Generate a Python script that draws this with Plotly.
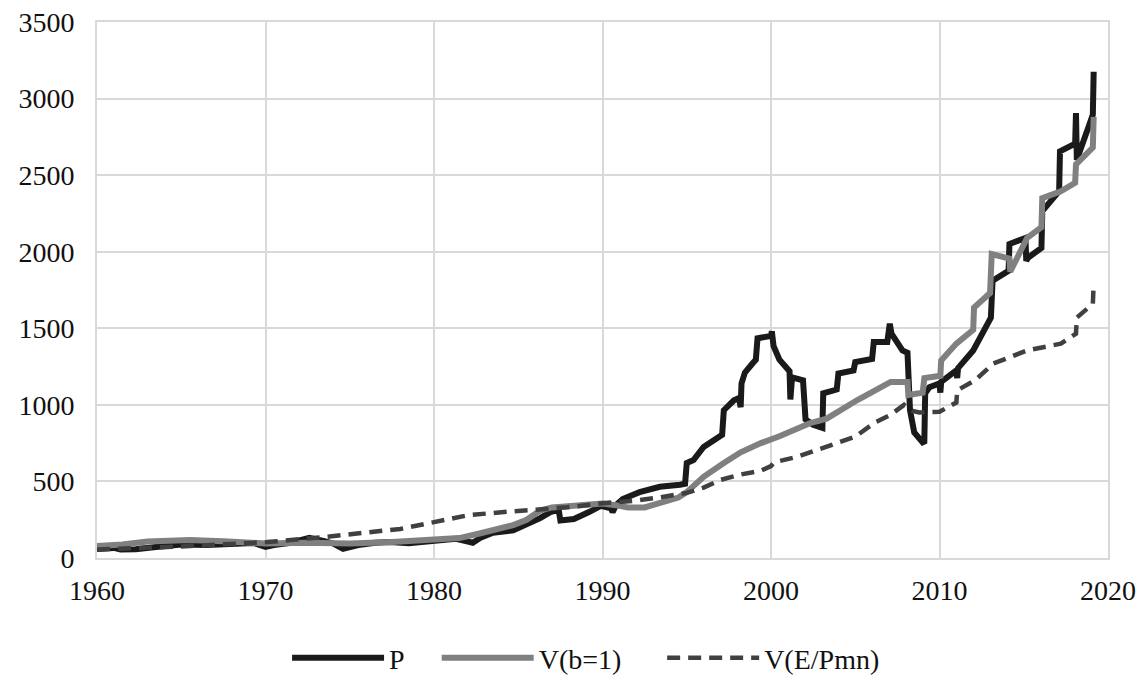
import plotly.graph_objects as go

# ---- data ----
p_year = [1960.0, 1961.0, 1961.4, 1962.3, 1963.5, 1965.0, 1966.5, 1968.0, 1969.3, 1970.0,
          1970.5, 1971.5, 1972.6, 1973.5, 1974.0, 1974.6, 1975.5, 1976.5, 1977.4, 1978.5,
          1979.5, 1980.5, 1981.3, 1981.7, 1982.3, 1982.8, 1983.5, 1984.7, 1985.5, 1986.3,
          1986.9, 1987.4, 1987.5, 1988.3, 1989.2, 1989.9, 1990.5, 1990.6, 1990.8, 1991.2,
          1992.2, 1993.4, 1994.6, 1994.9, 1995.0, 1995.4, 1996.0, 1996.8, 1997.1, 1997.2,
          1997.8, 1998.1, 1998.2, 1998.25, 1998.45, 1998.9, 1999.1, 1999.2, 2000.0, 2000.05,
          2000.15, 2000.5, 2001.0, 2001.1, 2001.15, 2001.25, 2001.9, 2002.05, 2002.5, 2003.05,
          2003.1, 2003.9, 2004.0, 2004.9, 2005.0, 2006.0, 2006.1, 2006.9, 2007.05, 2007.15,
          2007.8, 2008.1, 2008.25, 2008.5, 2009.0, 2009.1, 2009.15, 2009.4, 2010.0, 2010.05,
          2010.1, 2011.0, 2011.05, 2011.1, 2012.0, 2013.05, 2013.15, 2014.1, 2014.15, 2015.1,
          2015.15, 2015.25, 2016.05, 2016.1, 2017.1, 2017.15, 2018.05, 2018.1, 2018.15, 2019.1,
          2019.15]
p_value = [58, 66, 55, 57, 72, 88, 85, 95, 98, 72,
           85, 100, 132, 110, 95, 60, 85, 100, 104, 96,
           105, 120, 125, 115, 100, 135, 165, 180, 215, 260,
           300, 315, 245, 255, 300, 340, 325, 300, 345, 385,
           430, 465, 478, 485, 620, 640, 725, 790, 805, 965,
           1030, 1045, 985, 1140, 1210, 1270, 1295, 1435, 1450, 1480,
           1385, 1295, 1225, 1220, 1035, 1180, 1160, 905, 870, 850,
           1075, 1100, 1205, 1225, 1280, 1300, 1410, 1410, 1530, 1465,
           1355, 1340, 965, 820, 755, 760, 1075, 1115, 1140, 1080,
           1150, 1225, 1175, 1240, 1355, 1570, 1810, 1875, 2050, 2090,
           1940, 1960, 2025, 2265, 2395, 2655, 2705, 2905, 2600, 2895,
           3175]

v_year = [1960.0, 1961.5, 1963.0, 1965.5, 1967.5, 1970.0, 1972.5, 1975.0, 1977.5, 1980.0,
          1981.5, 1982.7, 1984.7, 1985.5, 1986.3, 1987.0, 1988.7, 1990.0, 1990.8, 1991.5,
          1992.5, 1993.4, 1994.5, 1995.0, 1996.0, 1997.2, 1998.2, 1999.4, 2000.5, 2002.3,
          2003.3, 2005.1, 2006.1, 2007.1, 2008.1, 2008.15, 2009.0, 2009.1, 2010.05, 2010.1,
          2011.0, 2012.0, 2012.05, 2013.0, 2013.1, 2014.15, 2014.2, 2015.2, 2016.05, 2016.1,
          2017.2, 2018.05, 2018.1, 2019.1, 2019.15]
v_value = [78, 88, 108, 118, 110, 95, 100, 95, 105, 125,
           130, 160, 215, 250, 310, 330, 345, 355, 345, 330,
           330, 360, 395, 430, 530, 620, 690, 750, 795, 880,
           910, 1030, 1095, 1150, 1150, 1065, 1080, 1175, 1190, 1290,
           1400, 1490, 1635, 1730, 1985, 1955, 1870, 2090, 2160, 2350,
           2395, 2450, 2570, 2680, 2880]

e_year = [1960.0, 1962.0, 1965.5, 1968.0, 1970.1, 1973.4, 1975.5, 1977.4, 1978.0, 1980.0,
          1982.0, 1984.0, 1985.9, 1987.9, 1990.0, 1992.0, 1993.4, 1995.0, 1996.0, 1997.0,
          1998.2, 1999.4, 2000.0, 2000.2, 2001.6, 2003.3, 2005.0, 2006.1, 2007.1, 2007.9,
          2008.4, 2008.8, 2010.0, 2011.0, 2011.05, 2012.1, 2013.2, 2015.2, 2017.2, 2018.1,
          2018.15, 2019.1, 2019.15]
e_value = [55, 62, 78, 92, 104, 136, 160, 178, 190, 234,
           279, 299, 312, 331, 357, 375, 396, 425, 460, 510,
           545, 570, 600, 625, 662, 727, 792, 880, 935, 1000,
           960, 950, 955, 1015, 1095, 1160, 1270, 1355, 1400, 1465,
           1570, 1660, 1790]

series_names = ["P", "V(b=1)", "V(E/Pmn)"]
x_ticks = [1960, 1970, 1980, 1990, 2000, 2010, 2020]
y_ticks = [0, 500, 1000, 1500, 2000, 2500, 3000, 3500]

FONT = "Liberation Serif"
GRID = "#d9d9d9"
TEXT = "#111111"

fig = go.Figure()
fig.add_trace(go.Scatter(x=p_year, y=p_value, name=series_names[0], mode="lines",
                         legend="legend",
                         line=dict(color="#1a1a1a", width=6)))
fig.add_trace(go.Scatter(x=v_year, y=v_value, name=series_names[1], mode="lines",
                         legend="legend2",
                         line=dict(color="#808080", width=6)))
fig.add_trace(go.Scatter(x=e_year, y=e_value, name=series_names[2], mode="lines",
                         legend="legend3",
                         line=dict(color="#404040", width=4.5, dash="13px,8px")))

leg_common = dict(orientation="h", xanchor="left", y=-0.1866, yanchor="middle",
                  font=dict(family=FONT, size=28, color=TEXT),
                  itemwidth=92, bgcolor="rgba(0,0,0,0)")

# the page adds an 8px body margin, so the figure is 8px smaller than the window
fig.update_layout(
    width=1138, height=667,
    margin=dict(l=89, r=38, t=14, b=117, autoexpand=False),
    paper_bgcolor="white", plot_bgcolor="white",
    font=dict(family=FONT, size=28, color=TEXT),
    showlegend=True,
    legend=dict(x=0.188, **leg_common),
    legend2=dict(x=0.336, **leg_common),
    legend3=dict(x=0.559, **leg_common),
)
fig.update_xaxes(range=[1960, 2020], tickvals=x_ticks, ticktext=[str(t) for t in x_ticks],
                 showgrid=True, gridcolor=GRID, gridwidth=2, zeroline=False,
                 showline=True, linecolor=GRID, linewidth=2, mirror=True,
                 ticks="", ticklabelstandoff=6, automargin=False,
                 ticklabeloverflow="allow")
fig.update_yaxes(range=[0, 3500], tickvals=y_ticks, ticktext=[str(t) for t in y_ticks],
                 showgrid=True, gridcolor=GRID, gridwidth=2, zeroline=False,
                 showline=True, linecolor=GRID, linewidth=2, mirror=True,
                 ticks="", ticklabelstandoff=15, automargin=False,
                 ticklabeloverflow="allow")

fig.write_html("out.html")
